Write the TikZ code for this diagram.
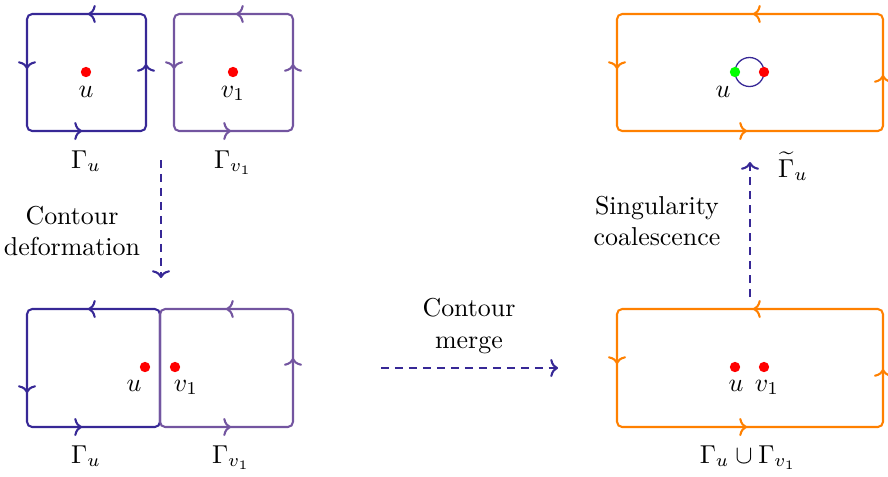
\documentclass[tikz,border=0pt]{standalone}
\usetikzlibrary{arrows.meta}
\definecolor{cblue}{RGB}{55,40,150}
\definecolor{cpurple}{RGB}{115,85,160}
\definecolor{corange}{RGB}{255,128,0}
\begin{document}
\begin{tikzpicture}[x=0.3863pt,y=-0.3863pt,
  contour/.style={line width=0.8pt, rounded corners=2pt},
  tipmark/.style={line width=0.8pt,-{To[length=3pt,width=7pt]}},
  dotnode/.style={circle,fill=#1,inner sep=0pt,minimum size=4pt},
  lab/.style={anchor=base,inner sep=0pt},
  flow/.style={cblue,line width=0.8pt,dash pattern=on 3pt off 2.4pt,-{To[length=3pt,width=7pt]}},
  txt/.style={align=center,inner sep=0pt}]
\useasboundingbox (0,0) rectangle (888,476);

% ---------- top left: Gamma_u ----------
\draw[contour,cblue] (27,14) rectangle (146,131);
\draw[tipmark,cblue] (98,14) -- (88,14);
\draw[tipmark,cblue] (27,59) -- (27,69);
\draw[tipmark,cblue] (146,74) -- (146,64);
\draw[tipmark,cblue] (72,131) -- (82,131);
\node[dotnode=red] (du1) at (86,72) {};
\node[lab] (lu1) at (86,97) {$u$};
\node[lab] (gu1) at (86,168) {$\Gamma_u$};

% ---------- top middle: Gamma_v1 ----------
\draw[contour,cpurple] (174,14) rectangle (293,131);
\draw[tipmark,cpurple] (246,14) -- (236,14);
\draw[tipmark,cpurple] (174,59) -- (174,69);
\draw[tipmark,cpurple] (293,74) -- (293,64);
\draw[tipmark,cpurple] (221,131) -- (231,131);
\node[dotnode=red] (dv1) at (233,72) {};
\node[lab] (lv1) at (233,97) {$v_1$};
\node[lab] (gv1) at (233,168) {$\Gamma_{v_1}$};

% ---------- bottom left: deformed contours ----------
\draw[contour,cblue] (27,309) rectangle (160,427);
\draw[tipmark,cblue] (98,309) -- (88,309);
\draw[tipmark,cblue] (27,383) -- (27,393);
\draw[tipmark,cblue] (72,427) -- (82,427);
\draw[contour,cpurple] (160,309) rectangle (293,427);
\draw[tipmark,cpurple] (236,309) -- (226,309);
\draw[tipmark,cpurple] (293,368) -- (293,358);
\draw[tipmark,cpurple] (221,427) -- (231,427);
\node[dotnode=red] (du2) at (145,367) {};
\node[dotnode=red] (dv2) at (175,367) {};
\node[lab] (lu2) at (134,391) {$u$};
\node[lab] (lv2) at (186,391) {$v_1$};
\node[lab] (gu2) at (86,463) {$\Gamma_u$};
\node[lab] (gv2) at (231,463) {$\Gamma_{v_1}$};

% ---------- bottom right: merged contour ----------
\draw[contour,corange] (617,309) rectangle (883,427);
\draw[tipmark,corange] (763,309) -- (753,309);
\draw[tipmark,corange] (617,354) -- (617,364);
\draw[tipmark,corange] (883,379) -- (883,369);
\draw[tipmark,corange] (737,427) -- (747,427);
\node[dotnode=red] (du3) at (735,367) {};
\node[dotnode=red] (dv3) at (764,367) {};
\node[lab] (lu3) at (736,391) {$u$};
\node[lab] (lv3) at (767,391) {$v_1$};
\node[lab] (guv) at (748,463) {$\Gamma_u\cup\Gamma_{v_1}$};

% ---------- top right: coalesced ----------
\draw[contour,corange] (617,14) rectangle (883,131);
\draw[tipmark,corange] (763,14) -- (753,14);
\draw[tipmark,corange] (617,59) -- (617,69);
\draw[tipmark,corange] (883,85) -- (883,75);
\draw[tipmark,corange] (737,131) -- (747,131);
\node[circle,draw=cblue,line width=0.5pt,minimum size=11.2pt,inner sep=0pt] (loop) at (749.5,72) {};
\node[dotnode=green] (dg) at (735,72) {};
\node[dotnode=red] (dr) at (764,72) {};
\node[lab] (lu4) at (723,97) {$u$};
\node[lab] (gt) at (793,177) {$\widetilde{\Gamma}_u$};

% ---------- flow arrows ----------
\coordinate (a1s) at (161,160);
\coordinate (a1e) at (161,278);
\draw[flow] (a1s) -- (a1e);
\node[txt] (t1) at (72,231) {Contour\\deformation};

\coordinate (a2s) at (381,368);
\coordinate (a2e) at (558,368);
\draw[flow] (a2s) -- (a2e);
\node[txt] (t2) at (469,326) {Contour\\merge};

\coordinate (a3s) at (750,297);
\coordinate (a3e) at (750,162);
\draw[flow] (a3s) -- (a3e);
\node[txt] (t3) at (657,221) {Singularity\\coalescence};
\end{tikzpicture}
\end{document}
